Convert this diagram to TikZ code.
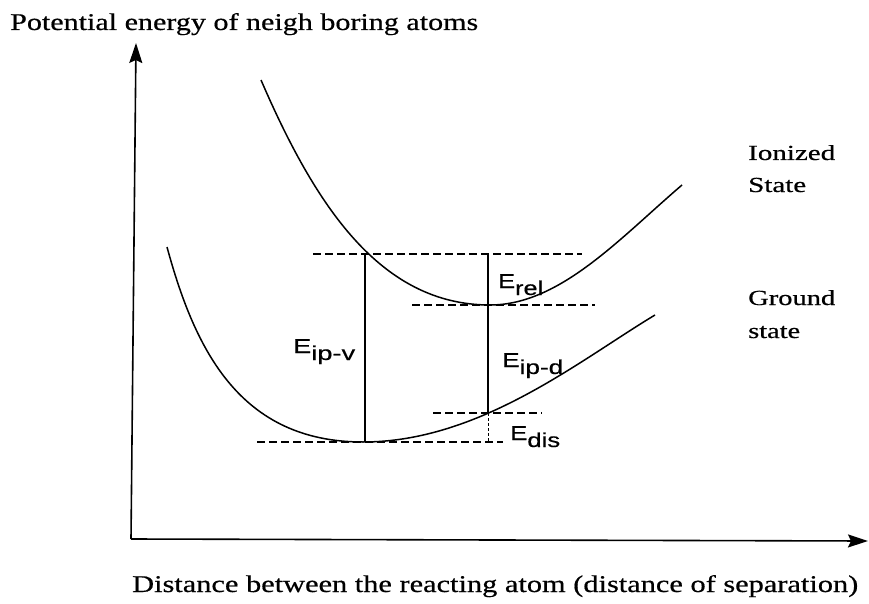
\documentclass[tikz,border=0pt]{standalone}
\usepackage{fontspec}
\setmainfont{Liberation Serif}[FakeBold=0.5]
\newfontfamily\labelsans{Liberation Sans}[FakeBold=0.4]
\usetikzlibrary{arrows.meta}
\newcommand{\fitw}[2]{\resizebox{#1}{\height}{#2}}
\begin{document}
\begin{tikzpicture}[x=1pt,y=-1pt,
  curve/.style={line width=1.5pt},
  level/.style={line width=1.3pt, dash pattern=on 8pt off 4pt},
  jump/.style={line width=1.2pt},
  minorlevel/.style={line width=0.8pt, dash pattern=on 3pt off 2pt},
  axis/.style={line width=1.6pt, -{Stealth[length=20pt,width=13pt,inset=3pt]}},
  serif/.style={inner sep=0pt, anchor=base west, font=\fontsize{24}{28}\selectfont},
  side/.style={inner sep=0pt, anchor=base west, font=\fontsize{21.5}{25}\selectfont},
  elabel/.style={inner sep=0pt, anchor=base west, font=\labelsans\fontsize{20}{23}\selectfont}]
\useasboundingbox (0,0) rectangle (869,604);

% axes
\coordinate (O) at (131,539);
\coordinate (ytip) at (136,43);
\coordinate (xtip) at (868,541);
\draw[axis] (O) -- (ytip);
\draw[axis] (O) -- (xtip);

% texts
\node[serif] (title) at (10,30) {\fitw{468pt}{Potential energy of neigh boring atoms}};
\node[serif] (xlab) at (132,592) {\fitw{726pt}{Distance between the reacting atom (distance of separation)}};
\node[side] (ion1) at (748,160) {\fitw{87pt}{Ionized}};
\node[side] (ion2) at (748,192) {\fitw{58pt}{State}};
\node[side] (gr1) at (748,305) {\fitw{87pt}{Ground}};
\node[side] (gr2) at (748,338) {\fitw{52pt}{state}};

% curves
\coordinate (u0) at (261,80);
\coordinate (umin) at (490,305);
\coordinate (u1) at (682,185);
\draw[curve] (u0) .. controls (315,205) and (380,305) .. (umin)
                  .. controls (560,305) and (620,238) .. (u1);
\coordinate (g0) at (167,247);
\coordinate (gmin) at (363,442);
\coordinate (g1) at (655,315);
\draw[curve] (g0) .. controls (195,350) and (240,442) .. (gmin)
                  .. controls (480,442) and (580,360) .. (g1);

% levels
\coordinate (a1) at (313,254); \coordinate (a2) at (582,254);
\coordinate (b1) at (412,305); \coordinate (b2) at (595,305);
\coordinate (c1) at (433,413); \coordinate (c2) at (542,413);
\coordinate (d1) at (257,442); \coordinate (d2) at (503,442);
\draw[level] (a1) -- (a2);
\draw[level] (b1) -- (b2);
\draw[level] (c1) -- (c2);
\draw[level] (d1) -- (d2);

% transitions
\coordinate (v1t) at (365,254); \coordinate (v1b) at (365,442);
\coordinate (v2t) at (488,254); \coordinate (v2m) at (488,413); \coordinate (v2b) at (488,442);
\draw[jump] (v1t) -- (v1b);
\draw[jump] (v2t) -- (v2m);
\draw[minorlevel] (v2m) -- (v2b);

% energy labels
\node[elabel] (eipv) at (293,353) {\fitw{62pt}{E\raisebox{-7pt}{ip-v}}};
\node[elabel] (erel) at (498,288) {\fitw{45pt}{E\raisebox{-7pt}{rel}}};
\node[elabel] (eipd) at (502,367) {\fitw{61pt}{E\raisebox{-7pt}{ip-d}}};
\node[elabel] (edis) at (510,440) {\fitw{50pt}{E\raisebox{-7pt}{dis}}};
\end{tikzpicture}
\end{document}
